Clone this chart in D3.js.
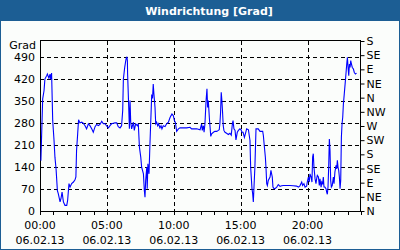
<!DOCTYPE html>
<html>
<head>
<meta charset="utf-8">
<script src="https://cdn.jsdelivr.net/npm/d3@7"></script>
<style>
  body { margin: 0; background: #fff; }
  svg { display: block; font-family: "DejaVu Sans", sans-serif; }
</style>
</head>
<body>
<div id="chart"></div>
<script>
// Windrichtung, 06.02.13
var times = ["00:04","00:12","00:18","00:22","00:30","00:33","00:40","00:45","00:48","00:52","00:57","01:03","01:07","01:12","01:18","01:22","01:30","01:34","01:39","01:45","01:52","02:00","02:04","02:10","02:15","02:22","02:30","02:37","02:41","02:44","02:49","02:53","02:59","03:07","03:14","03:22","03:29","03:37","03:44","03:52","03:59","04:07","04:14","04:22","04:29","04:37","04:44","04:52","04:59","05:07","05:14","05:21","05:29","05:36","05:44","05:51","05:59","06:06","06:11","06:14","06:20","06:26","06:30","06:32","06:33","06:38","06:41","06:44","06:47","06:51","06:59","07:03","07:09","07:17","07:21","07:26","07:32","07:36","07:44","07:48","07:51","07:54","07:59","08:01","08:04","08:09","08:13","08:21","08:25","08:28","08:31","08:36","08:39","08:43","08:48","08:52","08:58","09:03","09:07","09:13","09:21","09:28","09:36","09:43","09:48","09:52","09:58","10:03","10:07","10:13","10:21","10:28","10:43","10:58","11:13","11:20","11:28","11:43","11:58","12:05","12:08","12:13","12:16","12:20","12:25","12:29","12:32","12:35","12:40","12:43","12:46","12:50","12:58","13:05","13:13","13:20","13:24","13:27","13:30","13:33","13:36","13:39","13:42","13:45","13:50","13:57","14:05","14:12","14:18","14:23","14:26","14:30","14:35","14:39","14:45","14:50","14:57","15:02","15:06","15:11","15:17","15:23","15:27","15:35","15:42","15:45","15:51","15:54","15:57","16:00","16:04","16:09","16:12","16:19","16:27","16:39","16:42","16:46","16:51","16:54","16:57","17:00","17:04","17:12","17:16","17:19","17:22","17:25","17:30","17:34","17:42","17:49","17:57","18:04","18:12","18:27","18:41","18:56","19:11","19:19","19:26","19:34","19:38","19:44","19:49","19:56","19:59","20:04","20:08","20:11","20:16","20:20","20:23","20:26","20:29","20:34","20:38","20:41","20:44","20:49","20:53","20:56","21:01","21:04","21:08","21:11","21:14","21:18","21:23","21:26","21:29","21:32","21:35","21:38","21:41","21:44","21:47","21:51","21:56","21:59","22:03","22:08","22:11","22:14","22:17","22:20","22:23","22:26","22:29","22:32","22:35","22:38","22:41","22:45","22:50","22:53","22:56","22:59","23:02","23:05","23:08","23:11","23:14","23:17","23:21","23:26","23:30","23:35","23:40"];
var values = [160,356,382,419,430,435,422,435,419,438,287,224,171,134,65,55,29,39,60,29,18,18,34,87,76,87,92,99,108,192,245,290,280,282,279,271,261,277,271,261,250,268,275,271,275,285,277,277,270,264,271,277,279,280,280,268,264,271,319,419,456,483,490,477,435,330,261,351,282,261,282,256,277,271,277,203,171,139,118,65,44,97,139,71,150,118,208,366,361,403,372,329,277,282,271,277,264,271,261,271,268,277,282,296,303,308,303,287,282,253,261,264,264,264,266,261,261,261,258,277,256,271,250,277,351,388,329,351,293,266,237,245,250,253,253,256,258,277,313,377,351,313,271,256,250,247,243,247,241,277,287,261,256,226,250,256,261,258,250,250,234,250,261,258,224,139,71,55,29,76,139,261,261,261,253,253,240,208,171,134,87,81,97,108,129,118,108,76,71,71,76,84,78,80,81,81,81,80,79,76,80,92,81,87,76,79,92,108,92,118,108,92,171,182,139,102,87,102,113,108,81,102,76,92,87,108,76,76,71,60,53,76,139,229,192,97,76,81,108,87,124,145,134,161,139,129,108,71,97,234,277,298,340,372,414,440,467,488,456,430,467,456,478,467,456,451,440,435,438];

var gradTicks = [0, 70, 140, 210, 280, 350, 420, 490];
var dirTicks = [0, 45, 90, 135, 180, 225, 270, 315, 360, 405, 450, 495, 540];
var dirLabels = ["N","NE","E","SE","S","SW","W","NW","N","NE","E","SE","S"];
var hourTicks = [0, 5, 10, 15, 20];
var dateLabel = "06.02.13";

var width = 400, height = 250;
var plotLeft = 40, plotRight = 361, plotTop = 41, plotBottom = 211;
var blue = "#1c5e94";

var parse = d3.timeParse("%d.%m.%y %H:%M");
var day = parse(dateLabel + " 00:00");
var data = times.map(function(t, i){ return {t: parse(dateLabel + " " + t), v: values[i]}; });

var x = d3.scaleTime().domain([day, d3.timeHour.offset(day, 24)]).range([plotLeft, plotRight]);
var y = d3.scaleLinear().domain([0, 540]).range([plotBottom, plotTop]);

var svg = d3.select('#chart').append('svg').attr('width', width).attr('height', height);

// frame + title bar
svg.append('rect').attr('x', 0).attr('y', 0).attr('width', width).attr('height', height).attr('fill', blue);
svg.append('rect').attr('x', 1).attr('y', 21).attr('width', width - 2).attr('height', height - 22).attr('fill', '#fbfdfb');
svg.append('text').attr('x', 209).attr('y', 15).attr('text-anchor', 'middle')
  .attr('fill', 'white').attr('font-weight', 'bold').attr('font-size', '11px')
  .text('Windrichtung [Grad]');

// grid
var grid = svg.append('g').attr('stroke', '#000').attr('stroke-dasharray', '4,3').attr('shape-rendering', 'crispEdges');
grid.selectAll('.h').data(gradTicks.slice(1)).enter().append('line')
  .attr('x1', plotLeft).attr('x2', plotRight)
  .attr('y1', function(d){ return Math.round(y(d)) + 0.5; })
  .attr('y2', function(d){ return Math.round(y(d)) + 0.5; });
grid.selectAll('.v').data(hourTicks.slice(1)).enter().append('line')
  .attr('y1', plotTop).attr('y2', plotBottom)
  .attr('x1', function(d){ return Math.round(x(d3.timeHour.offset(day, d))) + 0.5; })
  .attr('x2', function(d){ return Math.round(x(d3.timeHour.offset(day, d))) + 0.5; });

// plot box
svg.append('rect').attr('x', plotLeft + 0.5).attr('y', plotTop - 0.5).attr('width', plotRight - plotLeft - 1).attr('height', plotBottom - plotTop + 0.5)
  .attr('fill', 'none').attr('stroke', '#000').attr('shape-rendering', 'crispEdges');

// axes
var fs = '11px';
var yAxis = svg.append('g').attr('transform', 'translate(' + plotLeft + ',0)')
  .call(d3.axisLeft(y).tickValues(gradTicks).tickSize(0).tickPadding(5));
yAxis.select('.domain').remove();
yAxis.selectAll('text').attr('font-size', fs).attr('font-family', 'DejaVu Sans').attr('fill', '#000');
svg.append('text').attr('x', plotLeft - 4).attr('y', 49).attr('text-anchor', 'end')
  .attr('font-size', fs).attr('fill', '#000').text('Grad');

var rAxis = svg.append('g').attr('transform', 'translate(' + (plotRight - 0.5) + ',0)')
  .call(d3.axisRight(y).tickValues(dirTicks).tickSize(4).tickPadding(2)
    .tickFormat(function(d, i){ return dirLabels[i]; }));
rAxis.select('.domain').remove();
rAxis.selectAll('text').attr('font-size', fs).attr('font-family', 'DejaVu Sans').attr('fill', '#000');

var hours = d3.range(0, 25).map(function(h){ return d3.timeHour.offset(day, h); });
var xAxis = svg.append('g').attr('transform', 'translate(0,' + (plotBottom - 0.5) + ')')
  .call(d3.axisBottom(x).tickValues(hours).tickSize(4).tickFormat(''));
xAxis.select('.domain').remove();
xAxis.selectAll('line').attr('shape-rendering', 'crispEdges');

var labels = svg.append('g').attr('font-size', fs).attr('text-anchor', 'middle').attr('fill', '#000');
hourTicks.forEach(function(h){
  var t = d3.timeHour.offset(day, h);
  labels.append('text').attr('x', x(t)).attr('y', 229).text(d3.timeFormat('%H:%M')(t));
  labels.append('text').attr('x', x(t)).attr('y', 244).text(dateLabel);
});

// series
var line = d3.line().x(function(d){ return x(d.t); }).y(function(d){ return y(d.v); });
svg.append('path').datum(data).attr('d', line)
  .attr('fill', 'none').attr('stroke', '#0000ff').attr('stroke-width', 1.1);
</script>
</body>
</html>
